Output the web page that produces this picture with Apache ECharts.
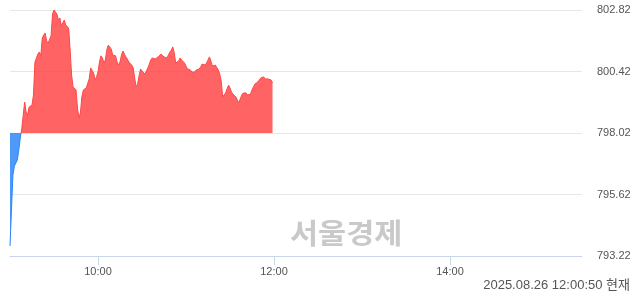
<!DOCTYPE html>
<html>
<head>
<meta charset="utf-8">
<script src="https://cdn.jsdelivr.net/npm/echarts@6/dist/echarts.min.js"></script>
<style>
html,body{margin:0;padding:0;background:#fff;}
#chart{width:640px;height:294px;}
</style>
</head>
<body>
<div id="chart"></div>
<script>
// ---- data ----
var BASE = 798.02;               // previous close
var Y_TICKS = [793.22, 795.62, 798.02, 800.42, 802.82];
var X_TICK_LABELS = ['10:00', '12:00', '14:00'];
var SESSION_START = '09:00';
var SESSION_END = '15:30';
var STAMP = '2025.08.26 12:00:50 현재';
var WATERMARK = '서울경제';
// one value per minute from 09:00
var PRICES = [
 793.61,795.02,796.38,796.73,796.77,796.97,797.36,797.83,798.18,798.22,
 799.23,798.84,798.72,799.03,799.00,799.11,799.50,800.79,800.83,801.10,
 801.18,801.03,801.73,801.84,801.92,801.61,801.53,801.53,801.81,802.66,
 802.82,802.74,802.66,802.43,802.51,802.20,802.23,802.43,802.23,802.16,
 802.12,801.26,800.28,799.82,799.82,799.70,799.00,798.61,798.80,799.43,
 799.70,799.66,799.78,799.82,800.13,800.56,800.60,800.36,800.09,800.21,
 800.40,800.79,801.03,800.95,800.75,800.87,801.26,801.45,801.42,801.30,
 801.06,801.10,801.03,800.79,800.67,800.79,801.06,801.22,801.10,800.99,
 800.91,800.79,800.79,800.67,800.56,800.17,799.82,799.93,800.24,800.52,
 800.44,800.40,800.32,800.36,800.56,800.71,800.87,800.95,800.91,800.91,
 800.95,800.99,801.06,801.10,801.06,800.99,800.95,800.95,801.06,801.18,
 801.26,801.38,801.14,800.75,800.75,800.83,800.95,800.87,800.83,800.75,
 800.63,800.52,800.48,800.48,800.40,800.44,800.40,800.48,800.48,800.52,
 800.60,800.71,800.75,800.67,800.75,800.87,800.99,800.83,800.63,800.63,
 800.67,800.60,800.48,800.32,800.05,799.43,799.46,799.58,799.74,799.89,
 799.78,799.62,799.54,799.50,799.43,799.31,799.19,799.35,799.50,799.58,
 799.62,799.58,799.50,799.46,799.54,799.70,799.82,799.93,799.97,800.01,
 800.09,800.17,800.24,800.21,800.13,800.09,800.13,800.17,800.09,799.97
];

// ---- categories: every minute of the session ----
function toMin(s){var p=s.split(':');return (+p[0])*60+(+p[1]);}
function fmt(m){var h=Math.floor(m/60),mm=m%60;return (h<10?'0':'')+h+':'+(mm<10?'0':'')+mm;}
var TIMES = [];
for (var m = toMin(SESSION_START); m <= toMin(SESSION_END); m++) TIMES.push(fmt(m));

var showTick = function(i, v){ return X_TICK_LABELS.indexOf(v) >= 0; };

var chart = echarts.init(document.getElementById('chart'), null, {renderer:'canvas'});
chart.setOption({
  animation: false,
  grid: {left: 10, right: 58, top: 10, bottom: 38, containLabel: false},
  xAxis: {
    type: 'category',
    data: TIMES,
    boundaryGap: false,
    axisLine: {show: true, lineStyle: {color: '#c9d5e8', width: 1}},
    axisTick: {show: true, interval: showTick, length: 9, lineStyle: {color: '#c9d5e8'}},
    axisLabel: {interval: showTick, color: '#555', fontSize: 11, margin: 10,
                fontFamily: 'Liberation Sans, Arial, sans-serif'},
    splitLine: {show: false}
  },
  yAxis: {
    type: 'value',
    position: 'right',
    min: Y_TICKS[0],
    max: Y_TICKS[Y_TICKS.length-1],
    interval: Y_TICKS[1]-Y_TICKS[0],
    axisLine: {show: false},
    axisTick: {show: false},
    axisLabel: {color: '#555', fontSize: 11, margin: 15,
                fontFamily: 'Liberation Sans, Arial, sans-serif',
                formatter: function(v){ return v.toFixed(2); }},
    splitLine: {show: true, lineStyle: {color: '#e6e6e6', width: 1}}
  },
  visualMap: {
    show: false,
    type: 'piecewise',
    dimension: 1,
    seriesIndex: 0,
    pieces: [
      {lt: BASE, color: '#2b86f6'},
      {gte: BASE, lt: 10000, color: '#ff4646'},
      {gte: 10000, color: '#ff4646'}
    ]
  },
  series: [{
    type: 'line',
    data: PRICES,
    symbol: 'none',
    lineStyle: {width: 1},
    areaStyle: {origin: BASE, opacity: 0.84},
    z: 3
  }],
  graphic: [
    {type: 'text', x: 290, y: 219, scaleX: 1.09, z: 1, silent: true,
     style: {text: WATERMARK, fill: '#c9c9c9', fontSize: 28, fontWeight: 'bold',
             fontFamily: 'Noto Sans CJK KR, sans-serif'}},
    {type: 'text', right: 10, top: 279,
     style: {text: STAMP, fill: '#555', fontSize: 13,
             fontFamily: 'Liberation Sans, Arial, Noto Sans CJK KR, sans-serif'}}
  ]
});
</script>
</body>
</html>
